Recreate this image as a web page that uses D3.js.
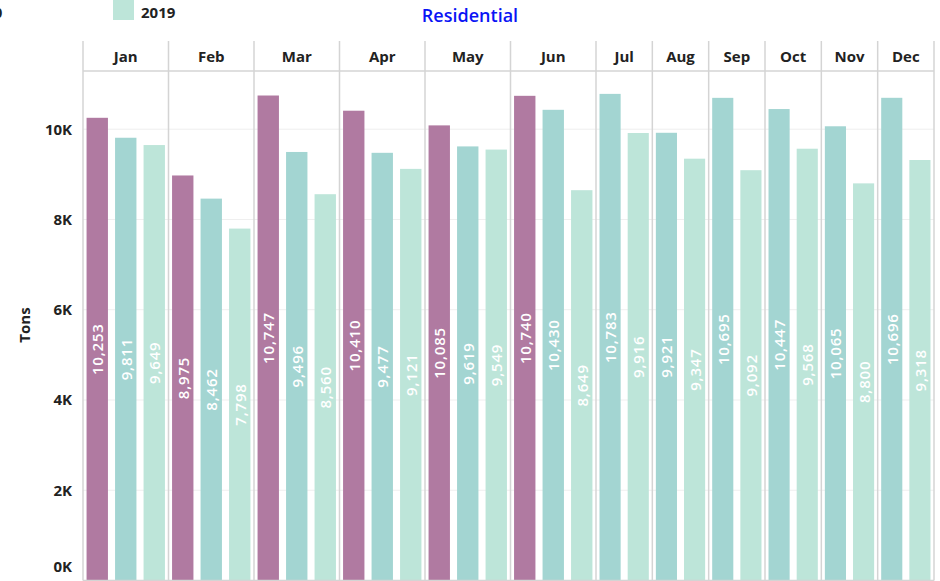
<html lang="en">
  <head>
    <meta charset="UTF-8">
    <title>Residential</title>
    <script src="https://d3js.org/d3.v7.min.js"></script>
    <style>
body, html {
  margin: 0;
  padding: 0;
  width: 100%;
  height: 100%;
  overflow: hidden;
  background: white;
  font-family: "Open Sans", sans-serif;
}
    svg {
      display: block;
    }
    </style>
  </head>
  <body>
    <svg></svg>
    <script>
      // data
      const months = ["Jan", "Feb", "Mar", "Apr", "May", "Jun", "Jul", "Aug", "Sep", "Oct", "Nov", "Dec"];
      const years = ["2021", "2020", "2019"];
      const tons2021 = [10253, 8975, 10747, 10410, 10085, 10740, null, null, null, null, null, null];
      const tons2020 = [9811, 8462, 9496, 9477, 9619, 10430, 10783, 9921, 10695, 10447, 10065, 10696];
      const tons2019 = [9649, 7798, 8560, 9121, 9549, 8649, 9916, 9347, 9092, 9568, 8800, 9318];
      const yTicks = [0, 2000, 4000, 6000, 8000, 10000];

      const colors = { "2021": "#b07aa1", "2020": "#a3d5d2", "2019": "#bde5d9" };

      const width = 940, height = 581;
      const svg = d3.select("svg").attr("width", width).attr("height", height);

      const left = 83, right = 934, headTop = 41, plotTop = 71, plotBottom = 580.5;

      // one column per month, as wide as the bars it holds
      const cols = months.map((m, i) => {
        const vals = [tons2021[i], tons2020[i], tons2019[i]];
        const bars = years.map((y, j) => ({ month: m, year: y, value: vals[j] }))
          .filter(d => d.value != null);
        return { month: m, bars };
      });
      let acc = 0;
      cols.forEach(c => { c.start = acc; acc += c.bars.length; c.end = acc; });

      const slot = d3.scaleLinear().domain([0, 18, acc]).range([left, 596, right]);
      const y = d3.scaleLinear().domain([0, 11290]).range([plotBottom, plotTop]);

      // horizontal grid
      svg.append("g")
        .selectAll("line")
        .data(yTicks.slice(1))
        .join("line")
        .attr("x1", left).attr("x2", right)
        .attr("y1", d => y(d)).attr("y2", d => y(d))
        .attr("stroke", "#efefef").attr("stroke-width", 1);

      // y axis labels
      const yAxis = svg.append("g")
        .attr("transform", `translate(${left},0)`)
        .call(d3.axisLeft(y).tickValues(yTicks).tickSize(0).tickPadding(11)
          .tickFormat(d => (d / 1000) + "K"));
      yAxis.select(".domain").remove();
      yAxis.selectAll("text")
        .attr("font-family", "Open Sans, sans-serif")
        .attr("font-size", 15)
        .attr("font-weight", 700)
        .attr("fill", "#222");
      yAxis.selectAll(".tick").filter(d => d === 0).select("text").attr("dy", "-0.6em");

      svg.append("text")
        .attr("transform", `translate(30,325) rotate(-90)`)
        .attr("text-anchor", "middle")
        .attr("font-size", 15)
        .attr("font-weight", 700)
        .attr("fill", "#222")
        .text("Tons");

      // bars per month
      const colG = svg.append("g").selectAll("g")
        .data(cols)
        .join("g");

      colG.each(function (c) {
        const g = d3.select(this);
        const x0 = slot(c.start), x1 = slot(c.end);
        const band = d3.scaleBand()
          .domain(c.bars.map(d => d.year))
          .range([x0, x1])
          .paddingInner(0.25)
          .paddingOuter(0.125);

        g.selectAll("rect")
          .data(c.bars)
          .join("rect")
          .attr("x", d => band(d.year))
          .attr("width", band.bandwidth())
          .attr("y", d => y(d.value))
          .attr("height", d => y(0) - y(d.value))
          .attr("fill", d => colors[d.year]);

        g.selectAll("text.val")
          .data(c.bars)
          .join("text")
          .attr("class", "val")
          .attr("transform", d => `translate(${band(d.year) + band.bandwidth() / 2},${(y(d.value) + y(0)) / 2}) rotate(-90)`)
          .attr("text-anchor", "middle")
          .attr("dominant-baseline", "central")
          .attr("font-size", 15)
          .attr("font-weight", 600)
          .attr("letter-spacing", 0.8)
          .attr("fill", "white")
          .text(d => d3.format(",")(d.value));

        g.append("text")
          .attr("x", (x0 + x1) / 2)
          .attr("y", (headTop + plotTop) / 2)
          .attr("text-anchor", "middle")
          .attr("dominant-baseline", "central")
          .attr("font-size", 15)
          .attr("font-weight", 700)
          .attr("fill", "#222")
          .text(c.month);
      });

      // frame: column separators, header rule, bottom
      svg.append("g")
        .selectAll("line")
        .data(cols.map(c => slot(c.start)).concat([right]))
        .join("line")
        .attr("x1", d => d).attr("x2", d => d)
        .attr("y1", headTop).attr("y2", plotBottom)
        .attr("stroke", "#d4d4d4").attr("stroke-width", 1.5);
      svg.append("line")
        .attr("x1", left).attr("x2", right)
        .attr("y1", plotTop).attr("y2", plotTop)
        .attr("stroke", "#d4d4d4").attr("stroke-width", 1.5);
      svg.append("line")
        .attr("x1", left).attr("x2", right)
        .attr("y1", plotBottom).attr("y2", plotBottom)
        .attr("stroke", "#d4d4d4").attr("stroke-width", 1.5);

      // title
      svg.append("text")
        .attr("x", 470).attr("y", 22)
        .attr("text-anchor", "middle")
        .attr("font-size", 18)
        .attr("font-weight", 600)
        .attr("fill", "#0a14f5")
        .text("Residential");

      // legend, partly scrolled off to the left
      const legend = svg.append("g").selectAll("g")
        .data(years.slice(1))
        .join("g")
        .attr("transform", (d, i) => `translate(${-60 + i * 173},0)`);
      legend.append("rect")
        .attr("width", 21).attr("height", 20)
        .attr("fill", d => colors[d]);
      legend.append("text")
        .attr("x", 28).attr("y", 12)
        .attr("dominant-baseline", "central")
        .attr("font-size", 15)
        .attr("font-weight", 700)
        .attr("fill", "#222")
        .text(d => d);
    </script>
  </body>
</html>
